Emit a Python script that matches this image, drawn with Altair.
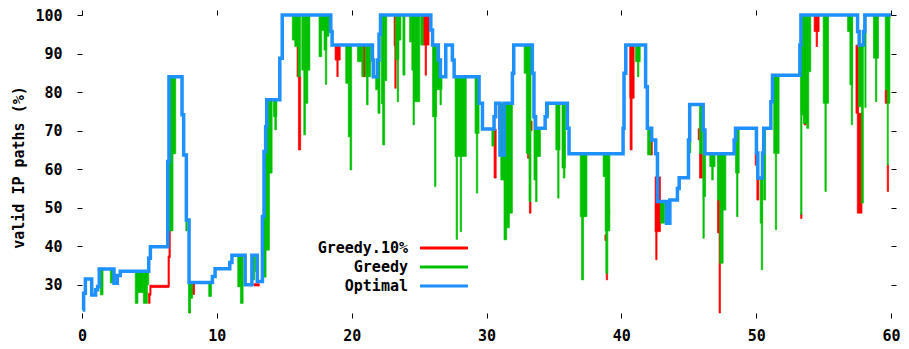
import altair as alt
import pandas as pd

# ---------------- data ----------------
x_ticks = [0, 10, 20, 30, 40, 50, 60]
y_ticks = [30, 40, 50, 60, 70, 80, 90, 100]
series_names = ["Greedy.10%", "Greedy", "Optimal"]
series_colors = ["#ff0000", "#00c000", "#1e90ff"]

# Optimal: step function (x, y) breakpoints
opt_x = [0.05, 0.12, 0.25, 0.72, 1.01, 1.16, 1.28, 2.37, 2.62, 2.84, 4.95, 5.07, 6.36, 6.45,
         7.42, 7.54, 7.74, 7.94, 9.67, 9.87, 10.96, 11.12, 12.1, 12.6, 13.0, 13.38, 13.5, 13.62,
         13.7, 14.67, 14.85, 18.45, 18.55, 21.54, 21.6, 21.9, 22.03, 22.14, 25.87, 26.0, 26.43,
         26.58, 26.98, 27.47, 27.6, 29.45, 29.7, 30.56, 30.68, 31.0, 31.3, 31.92, 32.02, 33.4,
         33.52, 33.64, 34.35, 34.47, 36.0, 36.12, 40.13, 40.2, 40.33, 41.8, 41.93, 42.25, 42.55,
         42.68, 43.35, 43.6, 44.16, 44.29, 44.98, 45.07, 46.07, 46.2, 48.37, 48.47, 50.02, 50.12,
         50.47, 50.56, 51.09, 51.21, 53.24, 53.32, 57.52, 57.64, 57.96, 58.06, 60.0]
opt_y = [23.5, 27.8, 31.5, 27.4, 28.7, 29.6, 34.1, 30.4, 32.4, 33.5, 36.9, 39.9, 62.0, 84.0,
         74.1, 63.7, 46.8, 30.6, 32.2, 34.2, 35.8, 37.7, 30.0, 37.7, 30.9, 47.7, 64.6, 71.0,
         78.0, 88.8, 100.0, 95.7, 92.2, 88.3, 84.0, 88.3, 95.0, 100.0, 96.1, 92.2, 88.3,
         84.0, 92.2, 88.3, 84.0, 77.1, 70.4, 73.6, 77.1, 63.7, 77.1, 84.9, 92.2, 84.9,
         73.6, 70.6, 73.6, 77.1, 70.6, 64.0, 70.6, 84.9, 92.2, 81.4, 70.6, 67.6, 64.0,
         51.6, 46.0, 52.0, 55.0, 57.8, 67.6, 76.8, 70.2, 64.0, 67.6, 70.6, 64.2, 57.7,
         64.2, 70.6, 77.5, 84.4, 92.2, 100.0, 95.7, 92.2, 95.7, 100.0, 100.0]

# Greedy: dips below the optimal curve (x from, x to, low, high)
greedy_segments = [
    (1.36, 1.56, 27.4, 34.0), (2.10, 2.30, 30.5, 34.0), (3.95, 4.15, 25.2, 33.5),
    (4.15, 4.55, 28.0, 33.5), (4.55, 4.85, 25.2, 33.5), (4.85, 4.95, 30.0, 33.5),
    (6.45, 6.75, 44.0, 84.0), (6.75, 6.95, 64.0, 84.0), (7.70, 7.80, 44.0, 48.0),
    (7.90, 8.05, 22.7, 30.6), (8.05, 8.20, 26.5, 30.6), (9.40, 9.60, 27.0, 30.6),
    (11.55, 11.75, 29.5, 37.7), (11.75, 11.95, 25.2, 37.7), (12.60, 12.80, 31.3, 37.7),
    (12.85, 13.00, 33.5, 37.7), (13.45, 13.65, 32.0, 64.0), (13.65, 13.90, 39.0, 78.0),
    (13.90, 14.10, 59.0, 78.0), (14.20, 14.45, 73.6, 78.0), (14.30, 14.42, 70.2, 78.0),
    (15.60, 15.78, 93.5, 100), (15.78, 16.02, 91.8, 100), (16.02, 16.20, 84.0, 100),
    (16.30, 16.45, 85.7, 100), (16.45, 16.57, 68.9, 100), (16.57, 16.75, 77.1, 100),
    (16.75, 16.90, 85.7, 100), (17.58, 17.78, 89.2, 100), (17.78, 17.95, 96.0, 100),
    (17.95, 18.15, 90.9, 100), (18.05, 18.15, 82.0, 100), (18.15, 18.32, 94.5, 100),
    (19.56, 19.75, 82.3, 92.2), (19.75, 19.90, 68.4, 92.2), (19.88, 20.00, 59.8, 92.2),
    (20.43, 20.75, 87.9, 92.2), (20.75, 20.85, 84.0, 92.2), (21.00, 21.15, 84.0, 92.2),
    (21.10, 21.22, 76.7, 92.2), (21.22, 21.40, 84.0, 92.2), (21.78, 21.95, 80.6, 84.0),
    (21.95, 22.10, 74.5, 88.0), (22.20, 22.30, 77.0, 100), (22.30, 22.45, 66.3, 100),
    (22.45, 22.60, 83.0, 100), (23.25, 23.50, 88.5, 100), (23.38, 23.48, 77.5, 100),
    (23.50, 23.65, 93.5, 100), (23.80, 23.95, 84.4, 100), (24.30, 24.45, 93.0, 100),
    (24.46, 24.65, 85.7, 100), (24.55, 24.65, 71.5, 100), (24.65, 25.05, 77.5, 100),
    (25.12, 25.30, 92.2, 100), (26.00, 26.30, 73.6, 92.2), (26.15, 26.25, 55.5, 92.2),
    (26.30, 26.58, 80.6, 88.3), (26.58, 26.70, 80.6, 84.0), (26.55, 26.65, 76.7, 84.0),
    (27.67, 28.50, 63.3, 84.0), (27.75, 27.85, 41.8, 84.0), (28.05, 28.15, 43.8, 84.0),
    (29.15, 29.45, 69.3, 84.0), (29.25, 29.35, 53.8, 84.0), (30.40, 30.56, 66.0, 70.4),
    (31.06, 31.30, 57.2, 77.1), (31.30, 31.50, 41.7, 77.1), (31.50, 31.70, 44.8, 77.1),
    (31.70, 31.92, 48.6, 77.1), (32.79, 33.00, 84.9, 92.2), (32.95, 33.15, 64.1, 92.2),
    (33.15, 33.30, 51.6, 92.2), (33.52, 33.64, 57.2, 73.6), (33.64, 33.75, 51.6, 70.6),
    (33.75, 34.00, 63.3, 70.6), (34.47, 34.60, 73.6, 77.1), (35.14, 35.45, 65.0, 77.1),
    (35.28, 35.38, 52.5, 77.1), (35.60, 35.85, 60.3, 77.1), (35.70, 35.82, 57.7, 77.1),
    (36.95, 37.45, 47.7, 64.0), (37.05, 37.20, 31.3, 64.0), (38.65, 38.80, 58.1, 64.0),
    (38.80, 39.15, 44.0, 64.0), (38.85, 39.00, 33.0, 64.0), (41.05, 41.40, 87.9, 92.2),
    (41.20, 41.30, 84.0, 92.2), (41.95, 42.20, 63.7, 70.6), (42.90, 43.20, 46.0, 51.6),
    (44.98, 45.15, 64.2, 67.6), (45.80, 46.00, 64.0, 76.8), (46.07, 46.25, 52.9, 70.2),
    (46.05, 46.15, 42.1, 70.0), (46.56, 46.95, 60.7, 64.0), (46.70, 46.82, 57.2, 64.0),
    (47.13, 47.30, 52.0, 64.0), (47.30, 47.55, 35.6, 64.0), (47.55, 47.75, 49.4, 64.0),
    (48.47, 48.74, 59.0, 70.6), (48.55, 48.65, 47.7, 70.6), (50.30, 50.47, 46.0, 57.7),
    (50.38, 50.48, 33.9, 57.7), (50.56, 50.70, 52.0, 70.6), (51.30, 51.70, 64.1, 84.4),
    (51.42, 51.52, 44.3, 84.4), (53.32, 53.50, 74.1, 100), (53.30, 53.40, 48.3, 100),
    (53.50, 53.75, 71.9, 100), (53.75, 53.90, 70.6, 100), (53.90, 54.05, 85.3, 100),
    (54.97, 55.37, 77.1, 100), (55.10, 55.20, 54.2, 100), (56.78, 57.00, 95.7, 100),
    (56.95, 57.15, 81.9, 100), (57.05, 57.15, 71.5, 100), (57.60, 57.95, 76.2, 92.2),
    (57.80, 57.95, 51.2, 76.2), (58.06, 58.15, 76.0, 100), (58.70, 59.07, 88.8, 100),
    (58.85, 58.95, 77.5, 100), (59.57, 59.75, 80.6, 100), (59.75, 59.92, 77.1, 100),
    (59.72, 59.80, 61.1, 100),
]

# Greedy.10%: parts visible below the other two curves
greedy10_segments = [
    (4.93, 5.05, 25.2, 27.8), (5.03, 5.12, 27.3, 29.9), (5.10, 6.45, 29.3, 29.9),
    (6.38, 6.48, 29.6, 37.5), (6.45, 6.55, 37.0, 44.0), (7.95, 8.05, 22.7, 23.5),
    (8.20, 8.35, 27.5, 30.6), (11.65, 11.80, 32.0, 37.7), (12.75, 13.15, 29.7, 30.3),
    (15.95, 16.05, 84.0, 91.8), (16.05, 16.22, 65.0, 84.0), (18.77, 19.15, 88.3, 92.2),
    (18.90, 19.00, 84.0, 92.2), (20.85, 21.00, 84.0, 92.2), (23.15, 23.25, 92.0, 100),
    (23.20, 23.30, 81.0, 92.0), (25.30, 25.74, 92.2, 100), (25.45, 25.55, 84.4, 100),
    (30.56, 30.72, 57.7, 70.4), (30.90, 30.98, 70.4, 77.0), (33.18, 33.30, 48.6, 51.6),
    (33.05, 33.12, 62.8, 64.3), (33.30, 33.38, 70.0, 72.5), (38.78, 38.85, 41.5, 43.0),
    (38.88, 38.98, 31.3, 33.2), (39.05, 39.12, 48.4, 49.5), (40.63, 40.95, 78.4, 92.2),
    (40.65, 40.80, 65.0, 92.2), (42.15, 42.30, 63.7, 67.6), (42.50, 42.90, 43.8, 58.0),
    (42.55, 42.65, 36.5, 58.0), (45.70, 45.80, 67.6, 70.5), (45.80, 46.00, 57.7, 64.0),
    (47.13, 47.30, 43.5, 52.0), (47.25, 47.35, 22.7, 43.5), (49.93, 50.02, 61.0, 64.3),
    (50.05, 50.20, 52.0, 57.7), (53.30, 53.40, 47.2, 48.5), (53.55, 53.70, 71.5, 77.1),
    (54.30, 54.67, 95.7, 100), (54.45, 54.55, 91.8, 100), (57.40, 57.60, 74.5, 92.2),
    (57.50, 57.85, 48.6, 74.5), (59.57, 59.72, 77.1, 80.6), (59.72, 59.82, 54.2, 61.1),
]

# ---------------- chart ----------------
FONT = "DejaVu Sans Mono"
FS = 15
xs = alt.Scale(domain=[0, 60], nice=False, zero=False)
ys = alt.Scale(domain=[22.7, 100], nice=False, zero=False)

common_axis = dict(tickSize=5, tickColor="black", tickWidth=1, domain=False, grid=False,
                   labelFont=FONT, labelFontSize=FS, labelFontWeight="bold",
                   labelColor="black", labelFlush=False, labelOverlap=False)

x_bottom = alt.Axis(orient="bottom", values=x_ticks, labelPadding=17, labelBaseline="middle",
                    title=None, **common_axis)
y_left = alt.Axis(orient="left", values=y_ticks, labelPadding=15, format="d",
                  title="valid IP paths (%)", titleX=-64, titleY=152, titleAngle=270,
                  titleAlign="center", titleBaseline="middle", titleFont=FONT,
                  titleFontSize=FS, titleFontWeight="bold", titleColor="black",
                  **common_axis)
x_top = alt.Axis(orient="top", values=x_ticks, labels=False, title=None, tickSize=5,
                 tickColor="black", domain=False, grid=False)
y_right = alt.Axis(orient="right", values=y_ticks, labels=False, title=None, tickSize=5,
                   tickColor="black", domain=False, grid=False)

def seg_df(segs):
    return pd.DataFrame(segs, columns=["x0", "x1", "lo", "hi"])

red = alt.Chart(seg_df(greedy10_segments)).mark_rect(
    color=series_colors[0], stroke=series_colors[0], strokeWidth=0.7).encode(
    x=alt.X("x0:Q", scale=xs, axis=x_bottom), x2="x1:Q",
    y=alt.Y("lo:Q", scale=ys, axis=y_left), y2="hi:Q")

green = alt.Chart(seg_df(greedy_segments)).mark_rect(
    color=series_colors[1], stroke=series_colors[1], strokeWidth=0.7).encode(
    x=alt.X("x0:Q", scale=xs, axis=None), x2="x1:Q",
    y=alt.Y("lo:Q", scale=ys, axis=None), y2="hi:Q")

blue = alt.Chart(pd.DataFrame({"x": opt_x, "y": opt_y})).mark_line(
    interpolate="step-after", color=series_colors[2], strokeWidth=3.5).encode(
    x=alt.X("x:Q", scale=xs, axis=None), y=alt.Y("y:Q", scale=ys, axis=None))

frame = alt.Chart(pd.DataFrame({"x": [0, 60], "y": [22.7, 100]})).mark_point(opacity=0).encode(
    x=alt.X("x:Q", scale=xs, axis=x_top), y=alt.Y("y:Q", scale=ys, axis=y_right))

legend_layers = []
one = pd.DataFrame({"a": [0]})
for i, (name, col) in enumerate(zip(series_names, series_colors)):
    yy = 233 + i * 19
    legend_layers.append(alt.Chart(one).mark_text(
        align="right", baseline="middle", font=FONT, fontSize=FS, fontWeight="bold",
        color="black").encode(x=alt.value(326), y=alt.value(yy), text=alt.value(name)))
    legend_layers.append(alt.Chart(one).mark_rule(
        color=col, strokeWidth=3).encode(x=alt.value(338), x2=alt.value(386), y=alt.value(yy)))

chart = alt.layer(red, green, blue, frame, *legend_layers).resolve_axis(
    x="independent", y="independent"
).properties(
    width=809, height=298,
    autosize=alt.AutoSizeParams(type="none"),
    padding={"left": 74, "top": 7, "right": 10, "bottom": 32},
).configure_view(stroke=None)

chart.save("out.html", embed_options={"renderer": "svg", "actions": False})
